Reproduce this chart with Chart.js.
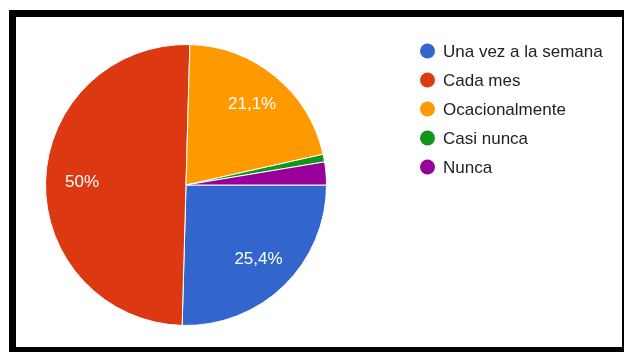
<!DOCTYPE html>
<html>
<head>
<meta charset="utf-8">
<script src="https://cdn.jsdelivr.net/npm/chart.js@4"></script>
<style>
  html, body { margin: 0; padding: 0; background: #fff; }
  body { width: 624px; height: 352px; position: relative; overflow: hidden; }
  .marco {
    position: absolute;
    left: 9px; top: 10px;
    width: 615px; height: 342px;
    box-sizing: border-box;
    border-style: solid;
    border-color: #000;
    border-width: 7px 2px 5px 7px;
    background: #fff;
  }
  .marco canvas { display: block; }
</style>
</head>
<body>
<div class="marco">
  <canvas id="frecuenciaChart" width="606" height="330"></canvas>
</div>
<script>
// ===== DATOS =====
const categorias = ['Una vez a la semana', 'Cada mes', 'Ocacionalmente', 'Casi nunca', 'Nunca'];
const respuestas = [29, 57, 24, 1, 3];
const colores = ['#3366CC', '#DC3912', '#FF9900', '#109618', '#990099'];

const totalRespuestas = respuestas.reduce((a, b) => a + b, 0);

function porcentaje(valor) {
    const p = Math.round(valor / totalRespuestas * 1000) / 10;
    return String(p).replace('.', ',') + '%';
}

// porcentajes dentro de cada porcion
const etiquetasPorcion = {
    id: 'etiquetasPorcion',
    afterDatasetsDraw(chart) {
        const ctx = chart.ctx;
        const arcos = chart.getDatasetMeta(0).data;
        ctx.save();
        ctx.fillStyle = '#fff';
        ctx.font = '17px "Liberation Sans", Arial, sans-serif';
        ctx.textAlign = 'center';
        ctx.textBaseline = 'middle';
        arcos.forEach((arco, i) => {
            const valor = respuestas[i];
            if (valor / totalRespuestas < 0.05) return;
            const { x, y, startAngle, endAngle, outerRadius } = arco.getProps(['x', 'y', 'startAngle', 'endAngle', 'outerRadius'], true);
            const medio = (startAngle + endAngle) / 2;
            const r = outerRadius * 0.74;
            ctx.fillText(porcentaje(valor), x + Math.cos(medio) * r, y + Math.sin(medio) * r);
        });
        ctx.restore();
    }
};

// leyenda a la derecha
const leyenda = {
    id: 'leyenda',
    afterDraw(chart) {
        const ctx = chart.ctx;
        ctx.save();
        ctx.font = '17px "Liberation Sans", Arial, sans-serif';
        ctx.textBaseline = 'middle';
        categorias.forEach((nombre, i) => {
            const y = 34 + i * 29;
            ctx.fillStyle = colores[i];
            ctx.beginPath();
            ctx.arc(411.5, y, 7.5, 0, Math.PI * 2);
            ctx.fill();
            ctx.fillStyle = '#222';
            ctx.fillText(nombre, 427, y + 1);
        });
        ctx.restore();
    }
};

new Chart(document.getElementById('frecuenciaChart'), {
    type: 'pie',
    data: {
        labels: categorias,
        datasets: [{
            data: respuestas,
            backgroundColor: colores,
            borderColor: '#fff',
            borderWidth: 1
        }]
    },
    options: {
        responsive: false,
        animation: false,
        events: [],
        rotation: 90,
        layout: {
            padding: { left: 29, right: 295, top: 27, bottom: 21 }
        },
        plugins: {
            legend: { display: false },
            tooltip: { enabled: false }
        }
    },
    plugins: [etiquetasPorcion, leyenda]
});
</script>
</body>
</html>
